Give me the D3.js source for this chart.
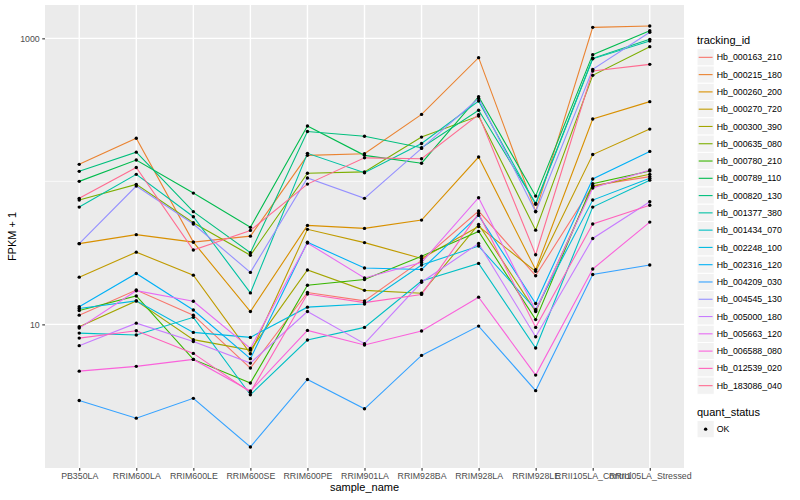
<!DOCTYPE html>
<html><head><meta charset="utf-8">
<script src="https://cdn.jsdelivr.net/npm/d3@7/dist/d3.min.js"></script>
<style>
body{margin:0;background:#fff;}
text{font-family:"Liberation Sans",Arial,Helvetica,sans-serif;}
</style>
</head><body>
<svg id="chart" width="800" height="500"></svg>
<script>
// ---- data ----
const samples = ["PB350LA","RRIM600LA","RRIM600LE","RRIM600SE","RRIM600PE","RRIM901LA","RRIM928BA","RRIM928LA","RRIM928LE","RRII105LA_Control","RRII105LA_Stressed"];
const trackingIds = ["Hb_000163_210","Hb_000215_180","Hb_000260_200","Hb_000270_720","Hb_000300_390","Hb_000635_080","Hb_000780_210","Hb_000789_110","Hb_000820_130","Hb_001377_380","Hb_001434_070","Hb_002248_100","Hb_002316_120","Hb_004209_030","Hb_004545_130","Hb_005000_180","Hb_005663_120","Hb_006588_080","Hb_012539_020","Hb_183086_040"];
const seriesColors = ["#F8766D","#EA8331","#D89000","#C09B00","#A3A500","#7CAE00","#39B600","#00BB4E","#00BF7D","#00C1A3","#00BFC4","#00BAE0","#00B0F6","#35A2FF","#9590FF","#C77CFF","#E76BF3","#FA62DB","#FF62BC","#FF6C91"];
const quantStatus = ["OK"];
const yTickValues = [10, 1000];
const yMinorValues = [100];

// FPKM + 1 per sample, one array per tracking_id
const hb000163_210 = [11.6, 17.4, 11.6, 4.95, 16.7, 14.6, 28.0, 62.0, 21.9, 93.3, 108];
const hb000215_180 = [131.5, 200, 37.6, 41.4, 152, 156, 294, 733, 61.7, 1194, 1219];
const hb000260_200 = [36.7, 42.4, 37.6, 12.3, 49.2, 46.9, 53.6, 148, 24.1, 273, 361];
const hb000270_720 = [21.4, 32.0, 22.1, 6.24, 46.2, 37.3, 28.9, 48.4, 23.5, 154, 232];
const hb000300_390 = [9.63, 14.6, 7.82, 6.61, 24.0, 17.3, 16.5, 50.0, 12.3, 92.3, 112];
const hb000635_080 = [74.0, 95.3, 51.4, 30.4, 114, 116.5, 204, 286, 45.6, 551, 875];
const hb000780_210 = [12.5, 15.8, 5.69, 3.89, 18.8, 20.6, 30.0, 44.7, 10.8, 96.4, 118];
const hb000789_110 = [100, 141, 82.8, 47.7, 244, 152, 134, 391, 78.9, 769, 1132];
const hb000820_130 = [117.5, 160, 61.4, 31.7, 223, 207, 172, 314, 70.2, 725, 984];
const hb001377_380 = [66.1, 112, 56.6, 16.6, 157, 115, 184, 364, 69.1, 719, 957];
const hb001434_070 = [8.69, 8.42, 11.2, 3.22, 7.77, 9.53, 20.1, 26.7, 6.83, 66.1, 102];
const hb002248_100 = [12.9, 14.6, 8.79, 8.11, 13.2, 13.9, 26.0, 35.3, 12.7, 74.0, 105];
const hb002316_120 = [13.3, 22.7, 12.6, 5.76, 37.5, 24.8, 24.2, 57.8, 14.0, 104, 162];
const hb004209_030 = [2.94, 2.21, 3.04, 1.39, 4.12, 2.57, 6.07, 9.73, 3.44, 22.3, 26.0];
const hb004545_130 = [36.7, 92.7, 50.3, 23.1, 105.5, 76.1, 170, 380, 61.2, 607, 1102];
const hb005000_180 = [7.10, 10.2, 7.60, 5.36, 12.3, 7.33, 19.7, 36.8, 8.20, 39.9, 72.1];
const hb005663_120 = [9.42, 17.2, 14.5, 6.79, 37.1, 21.1, 27.1, 76.9, 12.5, 89.8, 120];
const hb006588_080 = [4.71, 5.09, 5.69, 3.42, 9.08, 7.17, 8.98, 15.5, 4.42, 24.4, 51.9];
const hb012539_020 = [8.02, 9.03, 6.27, 3.35, 16.3, 14.2, 16.2, 59.7, 9.53, 50.3, 68.0];
const hb183086_040 = [76.1, 125, 33.1, 45.4, 95.7, 146, 144, 293, 30.7, 591, 658];

const seriesValues = [hb000163_210, hb000215_180, hb000260_200, hb000270_720, hb000300_390, hb000635_080, hb000780_210, hb000789_110, hb000820_130, hb001377_380, hb001434_070, hb002248_100, hb002316_120, hb004209_030, hb004545_130, hb005000_180, hb005663_120, hb006588_080, hb012539_020, hb183086_040];

// ---- layout ----
const svg = d3.select("#chart");
const P = {left: 45, right: 684, top: 5, bottom: 468};
const series = trackingIds.map((id, i) => ({id, color: seriesColors[i],
  pts: samples.map((s, j) => ({s, v: seriesValues[i][j]}))}));

const x = d3.scalePoint().domain(samples).range([P.left, P.right]).padding(0.6);
const all = seriesValues.flat();
const lo = Math.log10(d3.min(all)), hi = Math.log10(d3.max(all));
const ex = (hi - lo) * 0.05;
const y = d3.scaleLog().domain([Math.pow(10, lo - ex), Math.pow(10, hi + ex)]).range([P.bottom, P.top]);

// panel
svg.append("rect").attr("x", P.left).attr("y", P.top).attr("width", P.right - P.left).attr("height", P.bottom - P.top).attr("fill", "#EBEBEB");
const g = svg.append("g");
g.selectAll(".ymin").data(yMinorValues).enter().append("line")
  .attr("x1", P.left).attr("x2", P.right).attr("y1", d => y(d)).attr("y2", d => y(d))
  .attr("stroke", "#fff").attr("stroke-width", 0.7);
g.selectAll(".ymaj").data(yTickValues).enter().append("line")
  .attr("x1", P.left).attr("x2", P.right).attr("y1", d => y(d)).attr("y2", d => y(d))
  .attr("stroke", "#fff").attr("stroke-width", 1.4);
g.selectAll(".xmaj").data(samples).enter().append("line")
  .attr("x1", d => x(d)).attr("x2", d => x(d)).attr("y1", P.top).attr("y2", P.bottom)
  .attr("stroke", "#fff").attr("stroke-width", 1.4);

// lines
const line = d3.line().x(d => x(d.s)).y(d => y(d.v));
svg.append("g").selectAll("path").data(series).enter().append("path")
  .attr("d", d => line(d.pts)).attr("fill", "none").attr("stroke", d => d.color).attr("stroke-width", 1.1);
// points
svg.append("g").selectAll("circle").data(series.flatMap(d => d.pts)).enter().append("circle")
  .attr("cx", d => x(d.s)).attr("cy", d => y(d.v)).attr("r", 1.7).attr("fill", "#000");

// axes
const yAxis = svg.append("g").attr("transform", `translate(${P.left},0)`)
  .call(d3.axisLeft(y).tickValues(yTickValues).tickFormat(d3.format("d")).tickSize(2.75).tickPadding(2.5));
const xAxis = svg.append("g").attr("transform", `translate(0,${P.bottom})`)
  .call(d3.axisBottom(x).tickSize(2.75).tickPadding(2.5));
[yAxis, xAxis].forEach(a => {
  a.select(".domain").remove();
  a.selectAll(".tick line").attr("stroke", "#333333").attr("stroke-width", 1.1);
  a.selectAll(".tick text").attr("fill", "#4D4D4D").style("font-size", "8.8px")
   .style("font-family", '"Liberation Sans",Arial,sans-serif');
});

// axis titles
svg.append("text").attr("x", (P.left + P.right) / 2).attr("y", 491).attr("text-anchor", "middle")
  .style("font-size", "11px").attr("fill", "#000").text("sample_name");
svg.append("text").attr("transform", `translate(15.5,${(P.top + P.bottom) / 2}) rotate(-90)`)
  .attr("text-anchor", "middle").style("font-size", "11px").attr("fill", "#000").text("FPKM + 1");

// legend: tracking_id
const L = svg.append("g");
L.append("text").attr("x", 697).attr("y", 43.5).style("font-size", "11px").text("tracking_id");
const keyH = 17.28, key0 = 48.7;
const items = L.selectAll(".k").data(series).enter().append("g")
  .attr("transform", (d, i) => `translate(697,${key0 + i * keyH})`);
items.append("rect").attr("width", keyH).attr("height", keyH).attr("fill", "#F2F2F2").attr("stroke", "#fff").attr("stroke-width", 1);
items.append("line").attr("x1", 1.7).attr("x2", keyH - 1.7).attr("y1", keyH / 2).attr("y2", keyH / 2)
  .attr("stroke", d => d.color).attr("stroke-width", 1.1);
items.append("text").attr("x", keyH + 2.5).attr("y", keyH / 2 + 3.1).style("font-size", "8.8px").attr("fill", "#000").text(d => d.id);

// legend: quant_status
L.append("text").attr("x", 697).attr("y", 415.5).style("font-size", "11px").text("quant_status");
const q = L.selectAll(".q").data(quantStatus).enter().append("g").attr("transform", `translate(697,420.5)`);
q.append("rect").attr("width", keyH).attr("height", keyH).attr("fill", "#F2F2F2").attr("stroke", "#fff");
q.append("circle").attr("cx", keyH / 2).attr("cy", keyH / 2).attr("r", 1.7).attr("fill", "#000");
q.append("text").attr("x", keyH + 2.5).attr("y", keyH / 2 + 3.1).style("font-size", "8.8px").text(d => d);
</script>
</body></html>
